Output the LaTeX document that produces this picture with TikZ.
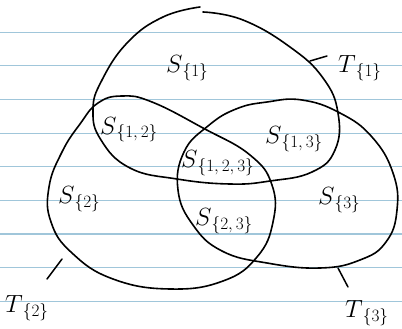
\documentclass[tikz,border=0pt]{standalone}
\usepackage{tikz}
\definecolor{ruled}{RGB}{160,198,218}
\newcommand{\subx}[1]{\raisebox{-4pt}{\fontsize{19}{19}\selectfont$\{#1\}$}}
\tikzset{
  ruleline/.style={draw=ruled, line width=1.2pt},
  setcurve/.style={draw=black, line width=1.6pt, line cap=round, line join=round},
  leader/.style={draw=black, line width=1.5pt, line cap=round},
  lbl/.style={anchor=base west, inner sep=0pt, font=\fontsize{27}{30}\selectfont}
}
\begin{document}
\begin{tikzpicture}[x=1pt,y=-1pt]
\useasboundingbox (0,0) rectangle (402,329);
\fill[white] (0,0) rectangle (402,329);
% ruled paper lines
\foreach \yy in {32.3,65.9,99.5,133.1,166.7,200.3,233.9,267.5,301.1}
  \draw[ruleline] (0,\yy) -- (402,\yy);
% T1 (top)
\draw[setcurve] plot[smooth, tension=0.75] coordinates {
 (203,12) (243,20) (290,47) (323,78) (338,113) (335,150) (312,172)
 (270,181) (230,184) (177,179) (130,168) (101,140) (93,110) (102,80)
 (128,42) (163,17) (200,7)};
% T2 (left)
\draw[setcurve] plot[smooth cycle, tension=0.75] coordinates {
 (122,96) (152,102) (203,128) (250,155) (272,185) (273,222) (257,257)
 (223,281) (170,289) (113,279) (72,253) (51,222) (49,187) (62,152)
 (80,124) (98,103)};
% T3 (right)
\draw[setcurve] plot[smooth cycle, tension=0.75] coordinates {
 (267,102) (302,100) (340,113) (372,137) (393,173) (397,210) (386,242)
 (360,260) (320,268) (267,263) (222,251) (193,225) (178,190) (184,152)
 (208,126) (236,109)};
% labels
\node[lbl] (s1)   at (166,73)  {$S$\subx{1}};
\node[lbl] (t1)   at (338,73)  {$T$\subx{1}};
\node[lbl] (s12)  at (100,134) {$S$\subx{1,2}};
\node[lbl] (s13)  at (265,143) {$S$\subx{1,3}};
\node[lbl] (s123) at (181,167) {$S$\subx{1,2,3}};
\node[lbl] (s2)   at (58,203)  {$S$\subx{2}};
\node[lbl] (s23)  at (195,225) {$S$\subx{2,3}};
\node[lbl] (s3)   at (318,204) {$S$\subx{3}};
\node[lbl] (t2)   at (5,312)   {$T$\subx{2}};
\node[lbl] (t3)   at (345,317) {$T$\subx{3}};
% leader lines
\coordinate (l1a) at (310,61);  \coordinate (l1b) at (327,56);
\coordinate (l2a) at (62,259);  \coordinate (l2b) at (47,279);
\coordinate (l3a) at (338,268); \coordinate (l3b) at (348,287);
\draw[leader] (l1a) -- (l1b);
\draw[leader] (l2a) -- (l2b);
\draw[leader] (l3a) -- (l3b);
\end{tikzpicture}
\end{document}
